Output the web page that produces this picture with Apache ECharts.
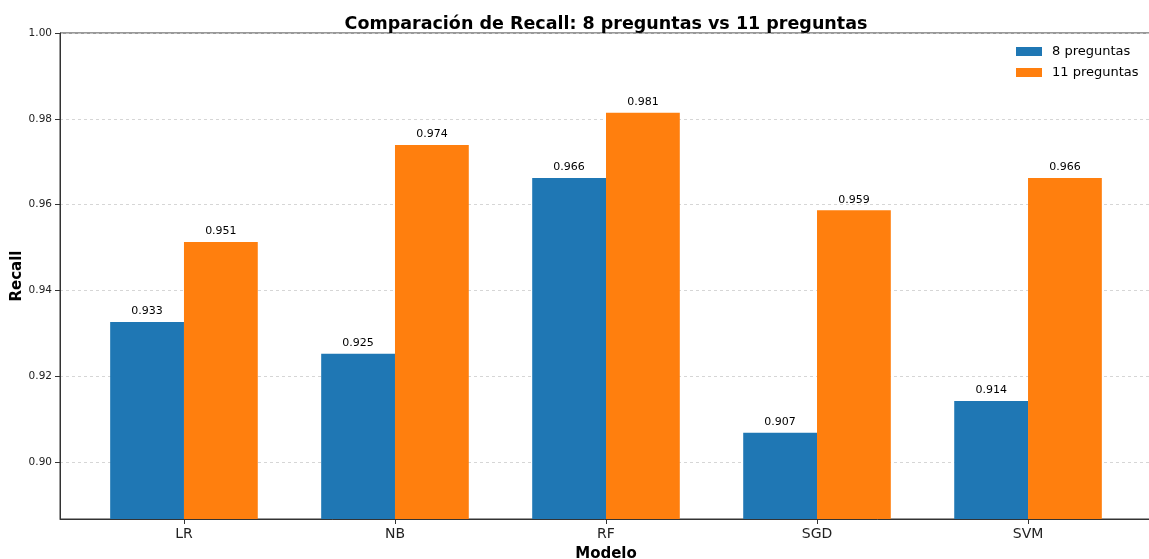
<!DOCTYPE html>
<html>
<head>
<meta charset="utf-8">
<script src="https://cdn.jsdelivr.net/npm/echarts@6/dist/echarts.min.js"></script>
<style>html,body{margin:0;padding:0;background:#fff}#c{width:1149px;height:559px}</style>
</head>
<body>
<div id="c"></div>
<script>
const categories = ['LR', 'NB', 'RF', 'SGD', 'SVM'];
const recall8 = [0.9326, 0.9252, 0.9662, 0.9068, 0.9142];
const recall11 = [0.9513, 0.9739, 0.9814, 0.9587, 0.9662];
const yTicks = [0.90, 0.92, 0.94, 0.96, 0.98, 1.00];
const seriesNames = ['8 preguntas', '11 preguntas'];

const FONT = 'DejaVu Sans';
const chart = echarts.init(document.getElementById('c'), null, {renderer: 'canvas'});
const xIdx = categories.map((c, i) => i);
const toData = arr => arr.map((v, i) => [i, v]);
const barLabel = {
  show: true, position: 'top', distance: 5,
  fontFamily: FONT, fontSize: 11, color: '#000',
  formatter: p => p.value[1].toFixed(3)
};
chart.setOption({
  animation: false,
  backgroundColor: '#fff',
  title: {
    text: 'Comparación de Recall: 8 preguntas vs 11 preguntas',
    left: 601, top: 10, textAlign: 'center',
    textStyle: {fontFamily: FONT, fontSize: 17.5, fontWeight: 'bold', color: '#000'}
  },
  legend: {
    data: seriesNames,
    orient: 'vertical', left: 1016, top: 45, padding: 0,
    itemWidth: 26, itemHeight: 9, itemGap: 8, icon: 'rect',
    textStyle: {fontFamily: FONT, fontSize: 13, color: '#000', padding: [0, 0, 0, 5]}
  },
  grid: {
    left: 60, top: 33, width: 1092, height: 486,
    containLabel: false, outerBoundsMode: 'none',
    show: true, borderColor: '#333', borderWidth: 1, backgroundColor: 'transparent'
  },
  xAxis: {
    type: 'value', min: -0.5875, max: 4.5875,
    name: 'Modelo', nameLocation: 'middle', nameGap: 28, nameMoveOverlap: false,
    nameTextStyle: {fontFamily: FONT, fontSize: 15, fontWeight: 'bold', color: '#000'},
    axisLine: {show: true, onZero: false, lineStyle: {color: '#333', width: 1}},
    axisTick: {show: true, customValues: xIdx, length: 5, lineStyle: {color: '#333'}},
    axisLabel: {customValues: xIdx, fontFamily: FONT, fontSize: 14, color: '#222', margin: 8,
      formatter: v => categories[Math.round(v)]},
    splitLine: {show: false}
  },
  yAxis: {
    type: 'value', min: 0.8867, max: 1.0,
    name: 'Recall', nameLocation: 'middle', nameGap: 35, nameMoveOverlap: false,
    nameTextStyle: {fontFamily: FONT, fontSize: 15, fontWeight: 'bold', color: '#000'},
    axisLine: {show: true, onZero: false, lineStyle: {color: '#333', width: 1}},
    axisTick: {show: true, customValues: yTicks, length: 5, lineStyle: {color: '#333'}},
    axisLabel: {customValues: yTicks, fontFamily: FONT, fontSize: 10.5, color: '#222', margin: 8,
      formatter: v => v.toFixed(2)},
    splitLine: {show: true, lineStyle: {color: '#cccccc', type: [3, 3], width: 0.8}}
  },
  series: [
    {name: seriesNames[0], type: 'bar', data: toData(recall8), barWidth: 73.8, barGap: '0%',
      itemStyle: {color: '#1f77b4'}, label: barLabel},
    {name: seriesNames[1], type: 'bar', data: toData(recall11), barWidth: 73.8, barGap: '0%',
      itemStyle: {color: '#ff7f0e'}, label: barLabel}
  ]
});
</script>
</body>
</html>
